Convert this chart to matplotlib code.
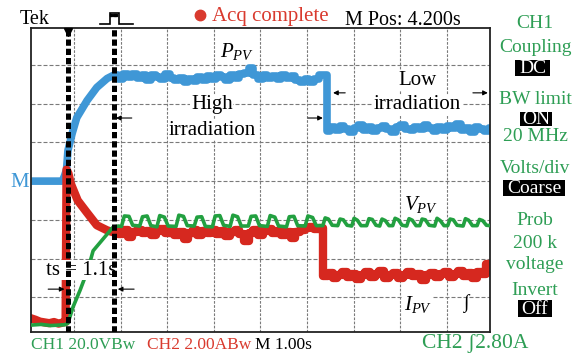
import matplotlib
matplotlib.use('Agg')
import matplotlib.pyplot as plt
from matplotlib.patches import Rectangle
import numpy as np

plt.rcParams['font.family'] = ['Liberation Serif', 'DejaVu Serif']
plt.rcParams['mathtext.fontset'] = 'custom'
plt.rcParams['mathtext.rm'] = 'Liberation Serif'
plt.rcParams['mathtext.it'] = 'Liberation Serif:italic'

BLUE = '#3f97d6'
RED = '#d6281f'
GREEN = '#22a040'
TXT_GREEN = '#2e9e55'
TXT_RED = '#d93a2e'

# =============================================================================
# DATA  (time in screen divisions, 1 div = 1 s; amplitude in divisions)
# =============================================================================
t_cursor1 = 0.866
t_cursor2 = 1.85
t_step = 6.41

# P_PV (blue): start-up, then high / low irradiation plateaus
blue_rise_t = [0.07, 0.75, 0.80, 0.84, 0.87, 0.96, 1.06, 1.28, 1.49, 1.71, 1.84, 1.90]
blue_rise_v = [4.00, 4.00, 4.15, 4.30, 4.79, 5.23, 5.64, 6.08, 6.42, 6.65, 6.73, 6.72]
blue_high = [6.73, 6.64, 6.76, 6.68, 6.77, 6.66, 6.73, 6.62, 6.75, 6.69,
             6.64, 6.76, 6.67, 6.61, 6.67, 6.56, 6.65, 6.59, 6.69, 6.61,
             6.72, 6.65, 6.75, 6.68, 6.62, 6.74, 6.66, 6.76, 6.80, 6.93,
             6.73, 6.64, 6.75, 6.67, 6.72, 6.63, 6.74, 6.66, 6.71, 6.61,
             6.56, 6.63, 6.55, 6.65, 6.73, 6.75]
blue_low = [5.29, 5.39, 5.32, 5.42, 5.34, 5.27, 5.38, 5.44, 5.33, 5.40,
            5.30, 5.37, 5.43, 5.34, 5.28, 5.39, 5.46, 5.35, 5.31, 5.40,
            5.34, 5.44, 5.37, 5.29, 5.39, 5.33, 5.42, 5.36, 5.47, 5.31,
            5.38, 5.28, 5.39, 5.34, 5.30, 5.36]

# I_PV (red)
red_rise_t = [0.07, 0.17, 0.27, 0.37, 0.47, 0.57, 0.67, 0.77, 0.82, 0.84,
              0.88, 0.93, 1.08, 1.27, 1.49, 1.71, 1.84, 1.90]
red_rise_v = [0.46, 0.42, 0.37, 0.35, 0.33, 0.36, 0.32, 0.35, 0.36, 4.30,
              4.20, 3.94, 3.50, 3.20, 2.86, 2.73, 2.68, 2.70]
red_high = [2.71, 2.63, 2.73, 2.56, 2.69, 2.75, 2.65, 2.72, 2.61, 2.70,
            2.76, 2.66, 2.73, 2.62, 2.69, 2.50, 2.66, 2.74, 2.60, 2.70,
            2.67, 2.75, 2.64, 2.72, 2.58, 2.69, 2.74, 2.63, 2.46, 2.66,
            2.73, 2.62, 2.70, 2.76, 2.65, 2.72, 2.60, 2.69, 2.54, 2.68,
            2.75, 2.78, 2.81, 2.76, 2.80]
red_low = [1.54, 1.63, 1.49, 1.58, 1.66, 1.52, 1.61, 1.46, 1.57, 1.64,
           1.53, 1.60, 1.67, 1.51, 1.58, 1.62, 1.49, 1.57, 1.65, 1.54,
           1.61, 1.45, 1.58, 1.63, 1.53, 1.60, 1.66, 1.52, 1.61, 1.69,
           1.55, 1.62, 1.51, 1.64, 1.60, 1.86]

# V_PV (green): ramp, then ripple around the MPP voltage
green_t = [0.07, 0.30, 0.50, 0.80, 0.87, 0.98, 1.13, 1.30, 1.41, 1.62, 1.83, 1.95,
           2.02, 2.08, 2.18, 2.26, 2.41, 2.47, 2.57, 2.65, 2.78, 2.84, 2.94, 3.02,
           3.19, 3.25, 3.35, 3.43, 3.58, 3.64, 3.74, 3.82, 3.97, 4.03, 4.13, 4.21,
           4.35, 4.41, 4.51, 4.59, 4.74, 4.80, 4.90, 4.98, 5.15, 5.21, 5.31, 5.39,
           5.56, 5.62, 5.72, 5.80, 5.96, 6.02, 6.12, 6.20,
           6.34, 6.39, 6.46, 6.54, 6.66, 6.71, 6.78, 6.86, 6.96, 7.01, 7.08, 7.16,
           7.28, 7.33, 7.40, 7.48, 7.56, 7.61, 7.68, 7.76, 7.84, 7.89, 7.96, 8.04,
           8.14, 8.19, 8.26, 8.34, 8.42, 8.47, 8.54, 8.62, 8.74, 8.79, 8.86, 8.94,
           9.02, 9.07, 9.14, 9.22, 9.35, 9.40, 9.47, 9.55, 9.65, 9.70, 9.77, 9.85,
           9.93]
green_v = [0.28, 0.30, 0.27, 0.29, 0.33, 0.75, 1.18, 1.72, 2.20, 2.50, 2.80, 2.84,
           2.83, 3.10, 3.09, 2.86, 2.84, 3.08, 3.10, 2.85, 2.82, 3.11, 3.07, 2.84,
           2.83, 3.12, 3.09, 2.85, 2.84, 3.07, 3.08, 2.83, 2.82, 3.10, 3.11, 2.86,
           2.83, 3.12, 3.08, 2.84, 2.84, 3.09, 3.10, 2.85, 2.83, 3.11, 3.07, 2.84,
           2.82, 3.08, 3.09, 2.85, 2.84, 3.10, 3.06, 2.85,
           2.85, 3.05, 3.02, 2.86, 2.85, 3.02, 3.00, 2.86, 2.84, 3.04, 2.99, 2.85,
           2.85, 3.03, 3.01, 2.86, 2.84, 3.02, 2.98, 2.85, 2.85, 3.04, 3.00, 2.86,
           2.84, 3.03, 2.99, 2.85, 2.85, 3.02, 3.00, 2.86, 2.84, 3.04, 2.98, 2.85,
           2.85, 3.02, 3.00, 2.86, 2.84, 3.03, 2.99, 2.85, 2.85, 3.01, 2.98, 2.86,
           2.85]

# sampling grid of the noisy plateaus (0.1 div per sample)
blue_high_t = 1.90 + 0.1 * np.arange(len(blue_high))
blue_low_t = 6.45 + 0.1 * np.arange(len(blue_low))
red_high_t = 1.90 + 0.1 * np.arange(len(red_high))
red_low_t = 6.40 + 0.1 * np.arange(len(red_low))

# =============================================================================
# FIGURE
# =============================================================================
W, H = 579, 356
fig = plt.figure(figsize=(W / 100, H / 100), dpi=100)
ax = fig.add_axes([30.7 / W, 24 / H, (490 - 30.7) / W, 304 / H])
ax.set_xlim(0.071, 9.927)
ax.set_ylim(0.103, 7.955)
ax.set_xticks([])
ax.set_yticks([])
for s in ax.spines.values():
    s.set_linewidth(1.3)
    s.set_color('#222222')

# graticule
for xv in range(1, 10):
    ax.axvline(xv, color='#7a7a7a', lw=0.8, ls=(0, (2.4, 1.3)), zorder=1)
for yv in range(1, 8):
    ax.axhline(yv, color='#7a7a7a', lw=0.8, ls=(0, (3.6, 1.8)), zorder=1)

# traces
ax.plot(blue_rise_t, blue_rise_v, color=BLUE, lw=5.5, zorder=2)
ax.plot(np.concatenate([blue_high_t, blue_low_t]), blue_high + blue_low,
        color=BLUE, lw=5.5, drawstyle='steps-mid', zorder=2)
ax.plot(red_rise_t, red_rise_v, color=RED, lw=6, zorder=2)
ax.plot(np.concatenate([red_high_t, red_low_t]), red_high + red_low,
        color=RED, lw=6, drawstyle='steps-mid', zorder=2)
ax.plot(green_t, green_v, color=GREEN, lw=2.6, zorder=3)

# cursors
for tc in (t_cursor1, t_cursor2):
    ax.axvline(tc, color='black', lw=3.6, ls=(0, (1.25, 0.6)), zorder=6)
ax.plot(t_cursor1, 7.86, marker='v', ms=6, color='black', zorder=7, clip_on=False)

# labels inside the screen
lab = dict(ha='center', va='center', fontsize=15, color='black', zorder=5,
           bbox=dict(facecolor='white', edgecolor='none', pad=0.5))
ax.text(4.50, 7.36, r'$P_{PV}$', **lab)
ax.text(3.96, 5.97, 'High', **lab)
ax.text(3.96, 5.32, 'irradiation', **lab)
ax.text(8.37, 6.61, 'Low', **lab)
ax.text(8.37, 5.97, 'irradiation', **lab)
ax.text(8.45, 3.40, r'$V_{PV}$', **lab)
ax.text(8.38, 0.82, r'$I_{PV}$', **lab)
ax.text(9.41, 0.83, '∫', ha='center', va='center', fontsize=14, zorder=5)
ax.text(1.15, 1.70, 'ts = 1.1s', ha='center', va='center', fontsize=15, zorder=5,
        bbox=dict(facecolor='white', edgecolor='none', pad=0.5))


def arrow(tip, tail, y):
    ax.annotate('', xy=(tip, y), xytext=(tail, y), zorder=7,
                arrowprops=dict(arrowstyle='-|>', color='black', lw=0.8,
                                mutation_scale=7, shrinkA=0, shrinkB=0))


arrow(t_cursor1 - 0.07, t_cursor1 - 0.42, 1.21)
arrow(t_cursor2 + 0.09, t_cursor2 + 0.44, 1.21)
arrow(t_cursor2 + 0.05, t_cursor2 + 0.39, 5.63)
arrow(t_step - 0.07, t_step - 0.39, 5.63)
arrow(t_step + 0.15, t_step + 0.41, 6.28)
arrow(9.88, 9.56, 6.28)

# =============================================================================
# SCOPE READOUTS (overlay in pixel coordinates)
# =============================================================================
ov = fig.add_axes([0, 0, 1, 1], zorder=10)
ov.set_xlim(0, W)
ov.set_ylim(H, 0)
ov.axis('off')
ov.patch.set_alpha(0)

ov.text(20, 24.5, 'Tek', fontsize=14.5, color='black', va='baseline')
ov.plot([100, 109.5, 109.5, 118.5, 118.5, 133], [24, 24, 13, 13, 24, 24],
        color='black', lw=1.2, solid_joinstyle='miter')
ov.plot([111, 113.5, 116], [15, 15, 15], ls='none', marker='s', ms=1.6, color='black')
ov.plot(200, 15, marker='o', ms=7.5, color=TXT_RED)
ov.text(212, 21.5, 'Acq complete', fontsize=15, color=TXT_RED, va='baseline')
ov.text(345, 25, 'M Pos: 4.200s', fontsize=14.5, color='black', va='baseline')

ov.text(20, 187, 'M', fontsize=15, color=BLUE, ha='center', va='baseline')

side = [('CH1', 28), ('Coupling', 52), ('BW limit', 104), ('20 MHz', 141),
        ('Volts/div', 173), ('Prob', 225), ('200 k', 248), ('voltage', 269),
        ('Invert', 295)]
for txt, yb in side:
    ov.text(535, yb, txt, fontsize=14, color=TXT_GREEN, ha='center', va='baseline')

boxes = [('DC', 515, 60, 35, 16, 73), ('ON', 520, 112, 32, 14, 124.5),
         ('Coarse', 503, 180, 62, 16, 193), ('Off', 518, 300, 34, 17, 314)]
for txt, x0, y0, bw, bh, yb in boxes:
    ov.add_patch(Rectangle((x0, y0), bw, bh, facecolor='black', edgecolor='none'))
    ov.text(x0 + bw / 2, yb, txt, fontsize=14, color='white', ha='center', va='baseline')

ov.text(31, 349, 'CH1 20.0VBw', fontsize=12.5, color=TXT_GREEN, va='baseline')
ov.text(147, 349, 'CH2 2.00ABw', fontsize=12.5, color=TXT_RED, va='baseline')
ov.text(255, 349, 'M 1.00s', fontsize=12.5, color='black', va='baseline')
ov.text(422, 348, 'CH2 ʃ2.80A', fontsize=15.5, color=TXT_GREEN, va='baseline')

fig.savefig('out.png', dpi=100)
